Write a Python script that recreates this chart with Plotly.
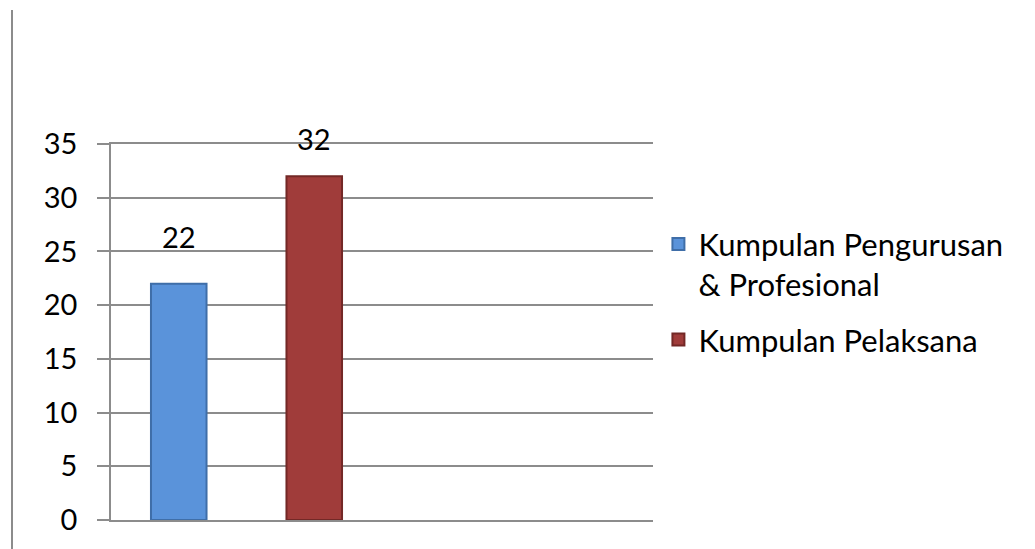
import plotly.graph_objects as go

series_names = ["Kumpulan Pengurusan<br>& Profesional", "Kumpulan Pelaksana"]
series_values = [22, 32]
series_positions = [1, 2]
series_colors = ["#5a93da", "#a03c3a"]
series_edges = ["#3f6ea8", "#732826"]
label_shift = [47, 38]
y_ticks = [0, 5, 10, 15, 20, 25, 30, 35]

FONT = "Lato"
fig = go.Figure()
for i, (name, v, p, c, e) in enumerate(zip(series_names, series_values, series_positions, series_colors, series_edges)):
    fig.add_trace(go.Bar(x=[p], y=[v], name=name, width=0.41, legendgroup=f"g{i}",
                         marker=dict(color=c, line=dict(color=e, width=2))))

for v, p, s in zip(series_values, series_positions, label_shift):
    fig.add_annotation(x=p, y=v, text=str(v), showarrow=False, yshift=s,
                       yanchor="middle", font=dict(family=FONT, size=29, color="#000"))

L, R, T, B = 111, 382, 144, 29
W, H = 1035, 549
pw = W - L - R
ph = H - T - B
fig.add_shape(type="line", xref="paper", yref="paper",
              x0=(12 - L) / pw, x1=(12 - L) / pw,
              y0=(H - 10 - B) / ph, y1=(0 - B) / ph,
              line=dict(color="#8c8c8c", width=2))

GRID = "#8c8c8c"
fig.update_layout(
    width=W, height=H, margin=dict(l=L, r=R, t=T, b=B),
    paper_bgcolor="white", plot_bgcolor="white",
    barmode="overlay",
    font=dict(family=FONT, size=28, color="#000"),
    xaxis=dict(range=[0.5, 4.5], showticklabels=False, showgrid=False, zeroline=False,
               showline=True, mirror=True, linecolor=GRID, linewidth=1.5, ticks=""),
    yaxis=dict(range=[0, 35], tickvals=y_ticks, showgrid=True, gridcolor=GRID, gridwidth=1.5,
               showline=True, linecolor=GRID, linewidth=1.5, ticks="outside", ticklen=12,
               tickcolor=GRID, tickwidth=1.5, zeroline=False, ticklabelstandoff=14,
               tickfont=dict(family=FONT, size=29, color="#000")),
    showlegend=True,
    legend=dict(x=1.010, y=0.805, xanchor="left", yanchor="top", valign="top",
                font=dict(family=FONT, size=31, color="#000"), tracegroupgap=12,
                itemwidth=30),
)
fig.write_html("out.html", config={"displayModeBar": False},
               post_script="document.body.style.margin='0';document.body.style.padding='0';")
